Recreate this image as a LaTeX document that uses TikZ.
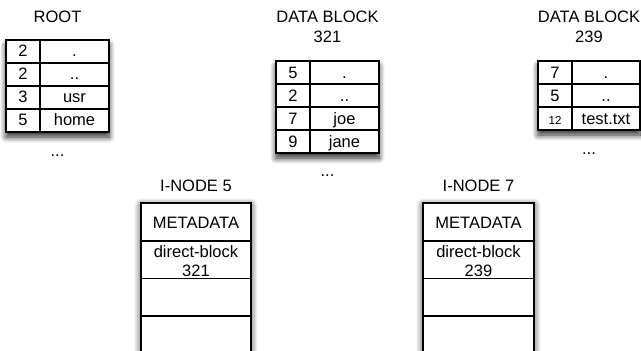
\documentclass[tikz,border=0pt]{standalone}
\usepackage{fontspec}
\setmainfont{Liberation Sans}
\usetikzlibrary{shadows.blur}

\begin{document}
\begin{tikzpicture}[x=1pt,y=-1pt,
  txt/.style={font=\fontsize{16.5}{19}\selectfont, inner sep=0pt, anchor=base},
  small/.style={font=\fontsize{11.5}{13}\selectfont, inner sep=0pt, anchor=base},
  tblbox/.style={draw=black, line width=1.2pt, fill=white, inner sep=0pt,
    blur shadow={shadow xshift=0pt, shadow yshift=-5pt, shadow blur radius=6pt,
      shadow blur steps=10, shadow opacity=85}},
  inodebox/.style={draw=black, line width=1.5pt, fill=white, inner sep=0pt,
    blur shadow={shadow xshift=0pt, shadow yshift=-2pt, shadow blur radius=7pt,
      shadow blur steps=10, shadow opacity=80}},
  rule/.style={draw=black, line width=1.2pt},
  irule/.style={draw=black, line width=1.5pt}
]
\useasboundingbox (0,0) rectangle (641,351);
\clip (0,0) rectangle (641,351);

% ---------- ROOT directory ----------
\node[txt] (rootlbl) at (57.5,22) {ROOT};
\node[tblbox, minimum width=103, minimum height=92] (root) at (57.5,86) {};
\draw[rule] (40,40) -- (40,132);
\foreach \y in {63,86,109} \draw[rule] (6,\y) -- (109,\y);
\node[txt] (r1a) at (23,56.5) {2};    \node[txt] (r1b) at (74.5,56.5) {.};
\node[txt] (r2a) at (23,79.5) {2};    \node[txt] (r2b) at (74.5,79.5) {..};
\node[txt] (r3a) at (23,102.5) {3};   \node[txt] (r3b) at (74.5,102.5) {usr};
\node[txt] (r4a) at (23,125.5) {5};   \node[txt] (r4b) at (74.5,125.5) {home};
\node[txt] (rootmore) at (57.5,156) {...};

% ---------- DATA BLOCK 321 ----------
\node[txt] (b321lbl) at (327.5,22.5) {DATA BLOCK};
\node[txt] (b321num) at (327.5,42.5) {321};
\node[tblbox, minimum width=103, minimum height=92] (b321) at (327.5,107) {};
\draw[rule] (310,61) -- (310,153);
\foreach \y in {84,107,130} \draw[rule] (276,\y) -- (379,\y);
\node[txt] (a1a) at (293,78) {5};     \node[txt] (a1b) at (344.5,78) {.};
\node[txt] (a2a) at (293,101) {2};    \node[txt] (a2b) at (344.5,101) {..};
\node[txt] (a3a) at (293,124) {7};    \node[txt] (a3b) at (344.5,124) {joe};
\node[txt] (a4a) at (293,147) {9};    \node[txt] (a4b) at (344.5,147) {jane};
\node[txt] (b321more) at (327.5,176) {...};

% ---------- DATA BLOCK 239 ----------
\node[txt] (b239lbl) at (589,22.5) {DATA BLOCK};
\node[txt] (b239num) at (589,42.5) {239};
\node[tblbox, minimum width=102, minimum height=69] (b239) at (589,95.5) {};
\draw[rule] (572,61) -- (572,130);
\foreach \y in {84,107} \draw[rule] (538,\y) -- (640,\y);
\node[txt] (c1a) at (555,78) {7};     \node[txt] (c1b) at (606,78) {.};
\node[txt] (c2a) at (555,101) {5};    \node[txt] (c2b) at (606,101) {..};
\node[small] (c3a) at (555,124) {12}; \node[txt] (c3b) at (606,124) {test.txt};
\node[txt] (b239more) at (589,154) {...};

% ---------- I-NODE 5 ----------
\node[txt] (i5lbl) at (196,191.5) {I-NODE 5};
\node[inodebox, minimum width=110, minimum height=180] (i5) at (196,293) {};
\foreach \y in {241,278.5,316} \draw[irule] (141,\y) -- (251,\y);
\node[txt] (i5meta) at (196,228) {METADATA};
\node[txt] (i5blk) at (196,257) {direct-block};
\node[txt] (i5num) at (196,276) {321};

% ---------- I-NODE 7 ----------
\node[txt] (i7lbl) at (478.5,191.5) {I-NODE 7};
\node[inodebox, minimum width=111, minimum height=180] (i7) at (478.5,293) {};
\foreach \y in {241,278.5,316} \draw[irule] (423,\y) -- (534,\y);
\node[txt] (i7meta) at (478.5,228) {METADATA};
\node[txt] (i7blk) at (478.5,257) {direct-block};
\node[txt] (i7num) at (478.5,276) {239};
\end{tikzpicture}
\end{document}
